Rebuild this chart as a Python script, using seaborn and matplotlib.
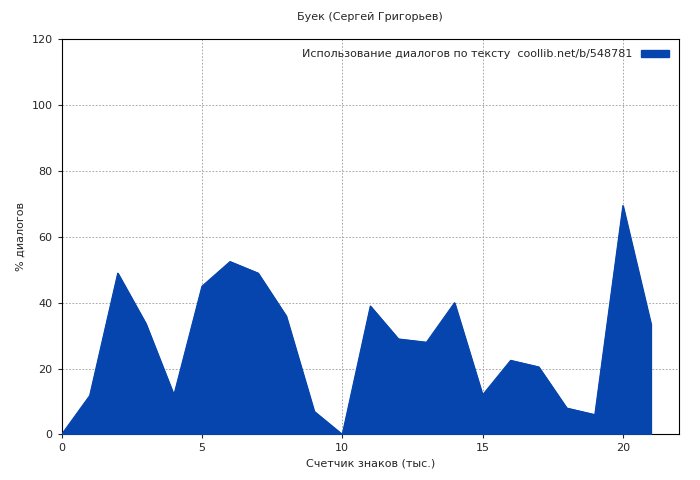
import matplotlib
matplotlib.use("Agg")
import matplotlib.pyplot as plt
import seaborn as sns
import pandas as pd

# Data
x_vals = list(range(22))
dialog_pct = [0, 11.8, 49, 33.7, 12, 45, 52.5, 49, 36, 7, 0,
              39, 29, 28, 40, 12, 22.5, 20.5, 8, 6, 69.5, 33.5]
legend_label = "Использование диалогов по тексту  coollib.net/b/548781"

df = pd.DataFrame({"x": x_vals, "y": dialog_pct})

sns.set_style("white")
plt.rcParams["font.family"] = ["DejaVu Sans"]

fig, ax = plt.subplots(figsize=(7, 4.8), dpi=100)
ax.fill_between(df["x"], df["y"], 0, color="#0645ad", label=legend_label, zorder=3)
sns.lineplot(data=df, x="x", y="y", ax=ax, color="#0645ad", linewidth=0.8, zorder=3)

ax.set_xlim(0, 22)
ax.set_ylim(0, 120)
ax.set_xticks([0, 5, 10, 15, 20])
ax.set_yticks(range(0, 121, 20))
ax.grid(True, color="#999999", linestyle=(0, (2, 2)), linewidth=0.6, zorder=0)
for s in ax.spines.values():
    s.set_color("black")
    s.set_linewidth(0.8)
ax.tick_params(labelsize=8, length=3, direction="out", left=True, bottom=True)

ax.set_title("Буек (Сергей Григорьев)", fontsize=8, pad=14)
ax.set_xlabel("Счетчик знаков (тыс.)", fontsize=8)
ax.set_ylabel("% диалогов", fontsize=8)

ax.legend(loc="upper right", fontsize=8, frameon=False, handlelength=2.5,
          markerfirst=False, handleheight=0.5)

fig.subplots_adjust(left=0.088, right=0.97, top=0.918, bottom=0.095)
fig.savefig("out.png", dpi=100)
